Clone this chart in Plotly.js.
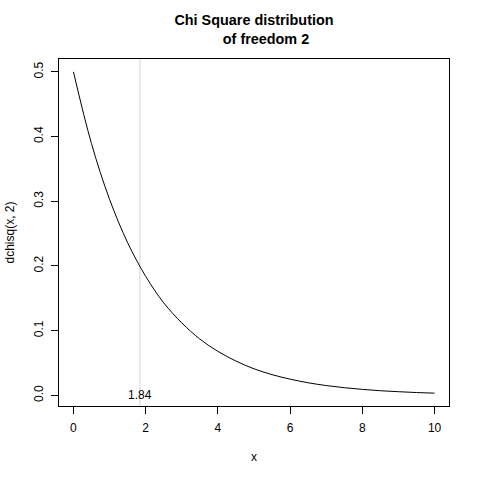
<!DOCTYPE html>
<html>
<head>
<meta charset="utf-8">
<script src="https://cdn.plot.ly/plotly-3.0.1.min.js"></script>
<style>
  html, body { margin: 0; padding: 0; background: #fff; }
</style>
</head>
<body>
<div id="chart" style="width:480px;height:480px;"></div>
<script>
// values
const xVals = [0, 0.5, 1, 1.5, 2, 2.5, 3, 3.5, 4, 4.5, 5, 5.5, 6, 6.5, 7, 7.5, 8, 8.5, 9, 9.5, 10];
const density = [0.500, 0.389, 0.303, 0.236, 0.184, 0.143, 0.112, 0.087, 0.068, 0.053, 0.041,
                 0.032, 0.025, 0.0194, 0.0151, 0.0118, 0.0092, 0.0071, 0.0056, 0.0043, 0.0034];
const cutoff = 1.84;
const xTicks = [0, 2, 4, 6, 8, 10];
const yTicks = [0.0, 0.1, 0.2, 0.3, 0.4, 0.5];
const yTickText = ["0.0", "0.1", "0.2", "0.3", "0.4", "0.5"];

const font = "Liberation Sans, Arial, Helvetica, sans-serif";

const curve = {
  x: xVals,
  y: density,
  type: "scatter",
  mode: "lines",
  line: { color: "#000", width: 1, shape: "spline" },
  hoverinfo: "skip"
};

const layout = {
  width: 480,
  height: 480,
  margin: { l: 59, r: 31, t: 59, b: 74 },
  paper_bgcolor: "#fff",
  plot_bgcolor: "#fff",
  showlegend: false,
  font: { family: font, size: 12, color: "#000" },
  title: {
    text: "Chi Square distribution<br>&nbsp;&nbsp;&nbsp;&nbsp;&nbsp;&nbsp;of freedom 2",
    font: { family: font, size: 14.4, weight: "bold", color: "#000" },
    xref: "paper", x: 0.5,
    yref: "container", y: 1 - 25 / 480, yanchor: "top"
  },
  xaxis: {
    range: [-0.4, 10.4],
    tickvals: xTicks,
    ticks: "outside", ticklen: 7, tickcolor: "#000", tickwidth: 1,
    ticklabelstandoff: 4,
    showline: true, mirror: true, linecolor: "#000", linewidth: 1,
    showgrid: false, zeroline: false,
    tickfont: { family: font, size: 12 },
    title: { text: "x", font: { family: font, size: 12 }, standoff: 18 }
  },
  yaxis: {
    range: [-0.0165, 0.5199],
    tickvals: yTicks,
    ticktext: yTickText,
    tickangle: -90,
    ticks: "outside", ticklen: 7, tickcolor: "#000", tickwidth: 1,
    ticklabelstandoff: 3,
    showline: true, mirror: true, linecolor: "#000", linewidth: 1,
    showgrid: false, zeroline: false,
    tickfont: { family: font, size: 12 },
    title: { text: "dchisq(x, 2)", font: { family: font, size: 12 }, standoff: 15 }
  },
  shapes: [
    {
      type: "line",
      xref: "x", yref: "paper",
      x0: cutoff, x1: cutoff, y0: 0, y1: 1,
      line: { color: "#d3d3d3", width: 1 },
      layer: "below"
    }
  ],
  annotations: [
    {
      x: cutoff, y: 0, xref: "x", yref: "y",
      text: String(cutoff),
      showarrow: false,
      xanchor: "center", yanchor: "middle",
      font: { family: font, size: 12, color: "#000" }
    }
  ]
};

Plotly.newPlot("chart", [curve], layout, { displayModeBar: false, staticPlot: true });
</script>
</body>
</html>
